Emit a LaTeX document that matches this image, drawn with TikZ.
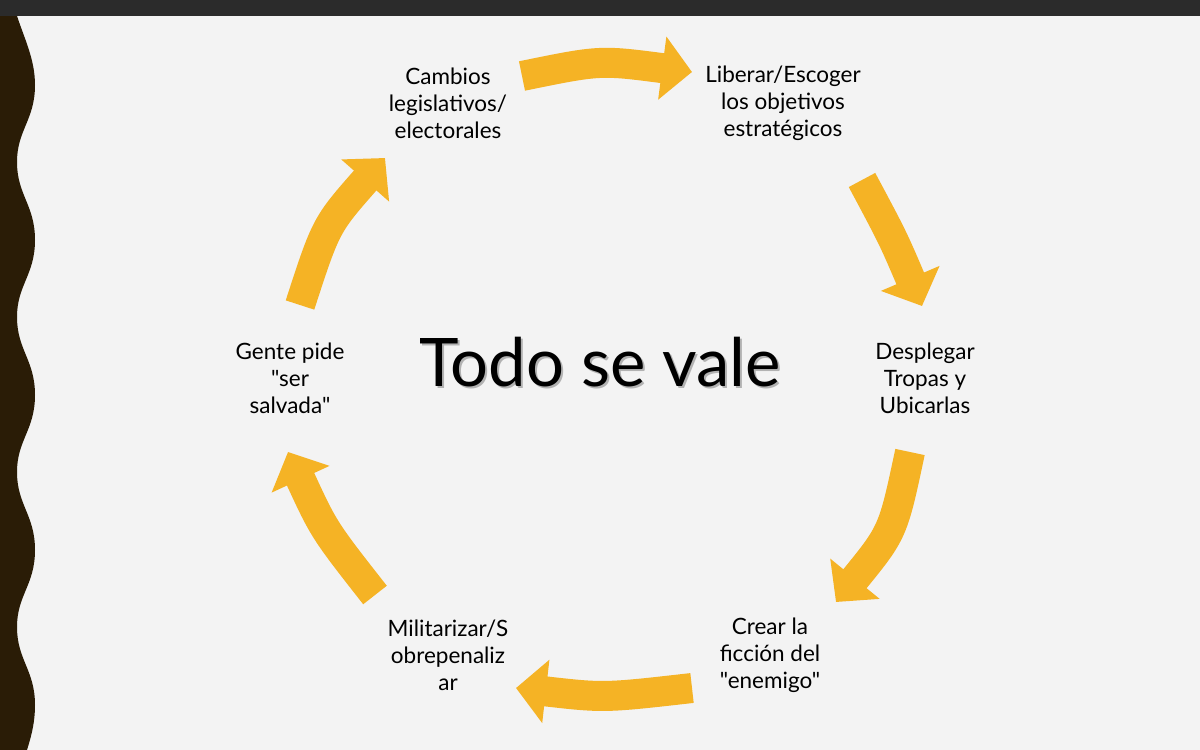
\documentclass[tikz,border=0pt]{standalone}
\usepackage{fontspec}
\setmainfont{Lato}[Ligatures=TeXOff]
\usetikzlibrary{arrows.meta}
\definecolor{bg}{HTML}{F3F3F3}
\definecolor{topbar}{HTML}{2B2B2B}
\definecolor{brownd}{HTML}{2A1C06}
\definecolor{gold}{HTML}{F5B325}
\begin{document}
\begin{tikzpicture}[x=1pt,y=-1pt,
  lbl/.style={align=center,font=\fontsize{22.5}{27}\selectfont,text=black},
  cyc/.style={draw=gold,line width=30pt,-{Triangle[length=30pt,width=62pt]}}]
\useasboundingbox (0,0) rectangle (1200,750);
\fill[bg] (0,0) rectangle (1200,750);
\fill[topbar] (0,0) rectangle (1200,16);
\fill[brownd] (0,16) -- (17,16)
  .. controls (25,40) and (35,60) .. (35,85)
  .. controls (35,120) and (17,130) .. (17,162)
  .. controls (17,195) and (35,205) .. (35,240)
  .. controls (35,275) and (17,285) .. (17,317)
  .. controls (17,350) and (35,360) .. (35,395)
  .. controls (35,430) and (17,440) .. (17,472)
  .. controls (17,505) and (35,515) .. (35,550)
  .. controls (35,585) and (17,595) .. (17,627)
  .. controls (17,660) and (35,670) .. (35,705)
  .. controls (35,725) and (30,740) .. (27,750) -- (0,750) -- cycle;
\node[lbl] (n1) at (448,103) {Cambios\\legislativos/\\electorales};
\node[lbl] (n2) at (783,103) {Liberar/Escoger\\los objetivos\\estratégicos};
\node[lbl] (n3) at (925,378) {Desplegar\\Tropas y\\Ubicarlas};
\node[lbl] (n4) at (770,655) {Crear la\\ficción del\\"enemigo"};
\node[lbl] (n5) at (448,655) {Militarizar/S\\obrepenaliz\\ar};
\node[lbl] (n6) at (290,378) {Gente pide\\"ser\\salvada"};
\node[font=\fontsize{67}{75}\selectfont,text=black!30,xshift=2pt,yshift=-2pt] at (600,362) {Todo se vale};
\node[font=\fontsize{67}{75}\selectfont,text=black] (c) at (600,362) {Todo se vale};
\coordinate (a1s) at (522,76); \coordinate (a1e) at (692,72);
\coordinate (a2s) at (862,180); \coordinate (a2e) at (922,306);
\coordinate (a3s) at (910,452); \coordinate (a3e) at (836,602);
\coordinate (a4s) at (692,688); \coordinate (a4e) at (516,688);
\coordinate (a5s) at (375,595); \coordinate (a5e) at (288,452);
\coordinate (a6s) at (300,305); \coordinate (a6e) at (385,158);
\draw[cyc] (a1s) .. controls (600,60) .. (a1e);
\draw[cyc] (a2s) .. controls (893,238) .. (a2e);
\draw[cyc] (a3s) .. controls (893,532) .. (a3e);
\draw[cyc] (a4s) .. controls (604,698) .. (a4e);
\draw[cyc] (a5s) .. controls (324,530) .. (a5e);
\draw[cyc] (a6s) .. controls (326,225) .. (a6e);
\end{tikzpicture}
\end{document}
